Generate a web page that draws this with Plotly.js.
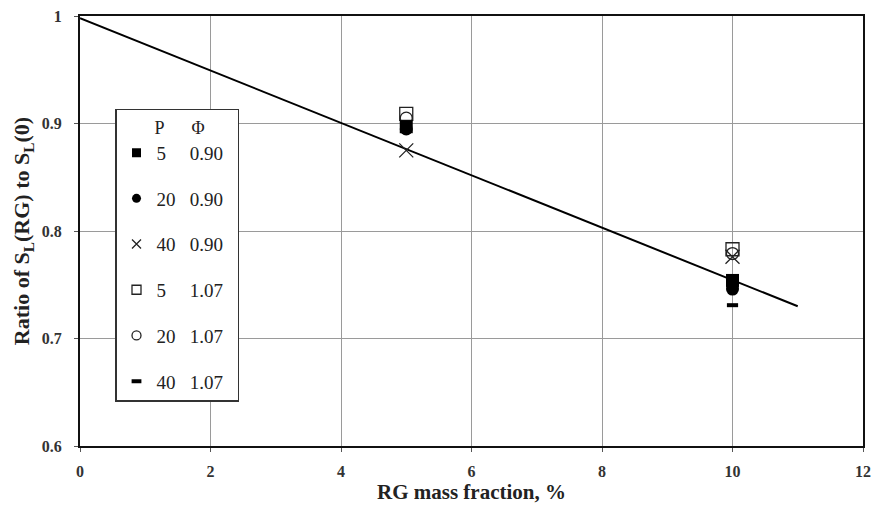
<!DOCTYPE html>
<html><head><meta charset="utf-8">
<script src="https://cdn.plot.ly/plotly-3.0.1.min.js"></script>
<style>html,body{margin:0;padding:0;background:#fff}#chart{width:872px;height:508px}</style>
</head><body><div id="chart"></div>
<script>
// RG mass fraction, %
const massFraction = [5, 10];
// Ratio S_L(RG)/S_L(0) per series (P, Phi)
const p5_090  = [0.897, 0.754];
const p20_090 = [0.895, 0.746];
const p40_090 = [0.875, 0.776];
const p5_107  = [0.909, 0.783];
const p20_107 = [0.905, 0.779];
const p40_107 = [0.899, 0.731];
// Fitted trend line
const fitX = [0, 11];
const fitY = [0.998, 0.730];
// Axis tick labels
const xTickVals = [0, 2, 4, 6, 8, 10, 12];
const xTickText = ["0", "2", "4", "6", "8", "10", "12"];
const yTickVals = [0.6, 0.7, 0.8, 0.9, 1.0];
const yTickText = ["0.6", "0.7", "0.8", "0.9", "1"];

const legendNames = [
  "5\u2007\u2007 0.90\u2007",
  "20\u2007 0.90",
  "40\u2007 0.90",
  "5\u2007\u2007 1.07",
  "20\u2007 1.07",
  "40\u2007 1.07"
];
const serif = "Liberation Serif, Times New Roman, serif";

const styles = [
  {symbol: "square", color: "#000", line: {width: 0}},
  {symbol: "circle", color: "#000", line: {width: 0}},
  {symbol: "x-thin-open", color: "#222", line: {width: 1.3, color: "#222"}},
  {symbol: "square-open", color: "#222", line: {width: 1.3, color: "#222"}},
  {symbol: "circle-open", color: "#222", line: {width: 1.3, color: "#222"}},
  {symbol: "line-ew", color: "#000", line: {width: 4, color: "#000"}}
];
const series = [p5_090, p20_090, p40_090, p5_107, p20_107, p40_107];
const plotSizes = [13, 13, 14, 13, 12, 8];
const legendSizes = [9, 9, 9, 9, 9, 7];

const traces = [];
traces.push({x: fitX, y: fitY, mode: "lines", line: {color: "#000", width: 2}, showlegend: false, hoverinfo: "skip"});
const order = [3, 4, 2, 0, 1, 5];
order.forEach(i => {
  traces.push({x: massFraction, y: series[i], mode: "markers", showlegend: false,
    marker: {symbol: styles[i].symbol, size: plotSizes[i], color: styles[i].color, line: styles[i].line}});
});
series.forEach((s, i) => {
  traces.push({x: [null], y: [null], mode: "markers", name: legendNames[i], legendgroup: "g" + i,
    marker: {symbol: styles[i].symbol, size: legendSizes[i], color: styles[i].color, line: styles[i].line}});
});

const layout = {
  width: 872, height: 508,
  margin: {l: 80, r: 9, t: 16, b: 62},
  paper_bgcolor: "#fff", plot_bgcolor: "#fff",
  font: {family: serif, color: "#222", size: 12},
  xaxis: {range: [0, 12], tickmode: "array", tickvals: xTickVals, ticktext: xTickText.map(t => "<b>" + t + "</b>"),
    showgrid: true, gridcolor: "#9a9a9a", gridwidth: 1,
    zeroline: false, showline: true, linecolor: "#111", linewidth: 2, mirror: true,
    ticks: "outside", ticklen: 4, tickcolor: "#555", ticklabelstandoff: 6,
    tickfont: {family: serif, size: 16, color: "#333"},
    title: {text: "<b>RG mass fraction, %</b>", font: {family: serif, size: 21, color: "#222"}, standoff: 5}},
  yaxis: {range: [0.6, 1.0], tickmode: "array", tickvals: yTickVals, ticktext: yTickText.map(t => "<b>" + t + "</b>"),
    showgrid: true, gridcolor: "#9a9a9a", gridwidth: 1,
    zeroline: false, showline: true, linecolor: "#111", linewidth: 2, mirror: true,
    ticks: "outside", ticklen: 4, tickcolor: "#555", ticklabelstandoff: 9,
    tickfont: {family: serif, size: 16, color: "#333"},
    title: {text: "<b>Ratio of S<sub>L</sub>(RG) to S<sub>L</sub>(0)</b>", font: {family: serif, size: 22, color: "#222"}, standoff: 6}},
  legend: {x: 0.0447, y: 0.784, xanchor: "left", yanchor: "top",
    bgcolor: "#fff", bordercolor: "#333", borderwidth: 1.5,
    font: {family: serif, size: 19, color: "#222"},
    tracegroupgap: 18, itemwidth: 30,
    title: {text: "\u2007\u2007\u2007\u2007P\u2007\u2007\u2007\u03A6", font: {family: serif, size: 18, color: "#222"}}},
  showlegend: true
};
Plotly.newPlot("chart", traces, layout, {staticPlot: true});
</script></body></html>
